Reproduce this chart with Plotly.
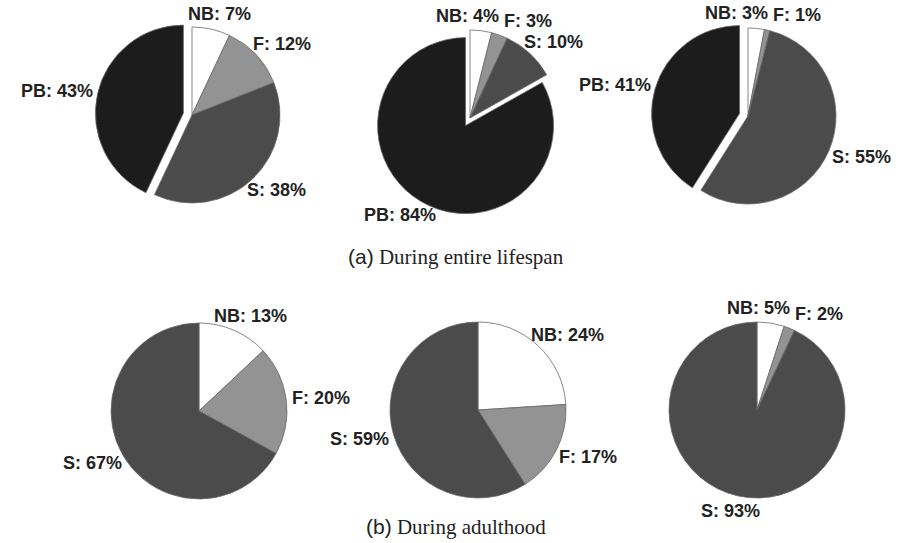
import math
import plotly.graph_objects as go

W, H = 912, 543

lifespan_labels = ["NB", "F", "S", "PB"]
lifespan_a = [7, 12, 38, 43]
lifespan_b = [4, 3, 10, 84]
lifespan_c = [3, 1, 55, 41]

adult_labels = ["NB", "F", "S"]
adult_a = [13, 20, 67]
adult_b = [24, 17, 59]
adult_c = [5, 2, 93]

captions = ["During entire lifespan", "During adulthood"]

COLORS = {"NB": "#ffffff", "F": "#939393", "S": "#4b4b4b", "PB": "#1c1c1c"}
PULL = 0.1
R = 88
GAP = 6
FONT_SIZE = 18
LABEL_FONT = dict(family="Liberation Sans, Arial", size=FONT_SIZE, color="#222222", weight="bold")

# rough Arial Bold advance widths (per 1000 em) to size the label boxes
CHAR_W = {"N": 722, "B": 722, "P": 667, "F": 611, "S": 667, ":": 333, " ": 278, "%": 889}


def text_width(s):
    return sum(CHAR_W.get(ch, 556) for ch in s) * FONT_SIZE / 1000


def to_paper(px, py):
    return px / W, 1 - py / H


def domain(cx, cy, half):
    x0, y1 = to_paper(cx - half, cy - half)
    x1, y0 = to_paper(cx + half, cy + half)
    return dict(x=[x0, x1], y=[y0, y1])


def label_boxes(labels, values, pulls, cx, cy):
    total = sum(values)
    boxes = []
    start = 0
    for lab, val, pull in zip(labels, values, pulls):
        mid = (start + val / 2) / total * 2 * math.pi
        start += val
        s, c = math.sin(mid), math.cos(mid)
        rho = R * (1 + pull) + GAP
        text = f"{lab}: {val}%"
        w, h = text_width(text), FONT_SIZE
        x = cx + rho * s + s * w / 2
        y = cy - rho * c - c * h / 2
        boxes.append([text, x, y, w, h])
    # spread apart neighbouring labels that collide
    for a, b in zip(boxes, boxes[1:]):
        overlap_x = (a[3] + b[3]) / 2 + 5 - abs(b[1] - a[1])
        overlap_y = (a[4] + b[4]) / 2 - abs(b[2] - a[2])
        if overlap_x > 0 and overlap_y > 0:
            a[1] -= overlap_x / 2
            b[1] += overlap_x / 2
    return boxes


def add_pie(fig, labels, values, cx, cy, pulled):
    pulls = [PULL if (pulled and lab == "PB") else 0 for lab in labels]
    half = R * (1 + max(pulls))
    fig.add_trace(go.Pie(
        labels=labels,
        values=values,
        sort=False,
        direction="clockwise",
        rotation=0,
        pull=pulls,
        domain=domain(cx, cy, half),
        marker=dict(colors=[COLORS[l] for l in labels],
                    line=dict(color="#6a6a6a", width=0.8)),
        textinfo="none",
        automargin=False,
        showlegend=False,
        hoverinfo="label+value",
    ))
    for text, x, y, w, h in label_boxes(labels, values, pulls, cx, cy):
        px, py = to_paper(x, y)
        fig.add_annotation(x=px, y=py, xref="paper", yref="paper", text=text,
                           showarrow=False, xanchor="center", yanchor="middle",
                           font=LABEL_FONT)


fig = go.Figure()
add_pie(fig, lifespan_labels, lifespan_a, 192, 115, True)
add_pie(fig, lifespan_labels, lifespan_b, 470, 118, True)
add_pie(fig, lifespan_labels, lifespan_c, 748, 116, True)
add_pie(fig, adult_labels, adult_a, 199, 411, False)
add_pie(fig, adult_labels, adult_b, 478, 410, False)
add_pie(fig, adult_labels, adult_c, 757, 410, False)

for tag, text, y in [("(a)", captions[0], 257), ("(b)", captions[1], 527)]:
    px, py = to_paper(456, y)
    fig.add_annotation(
        x=px, y=py, xref="paper", yref="paper", xanchor="center", yanchor="middle",
        text=f"<span style='font-family:Liberation Sans, Arial'>{tag}</span> {text}",
        showarrow=False,
        font=dict(family="Liberation Serif, Times New Roman", size=21, color="#222222"),
    )

fig.update_layout(
    width=W, height=H,
    margin=dict(l=0, r=0, t=0, b=0, autoexpand=False),
    paper_bgcolor="white",
    plot_bgcolor="white",
)

# drop the browser's default body margin so the figure sits at the page corner
fig.write_html("out.html", config={"displayModeBar": False},
               post_script="document.body.style.margin='0';")
